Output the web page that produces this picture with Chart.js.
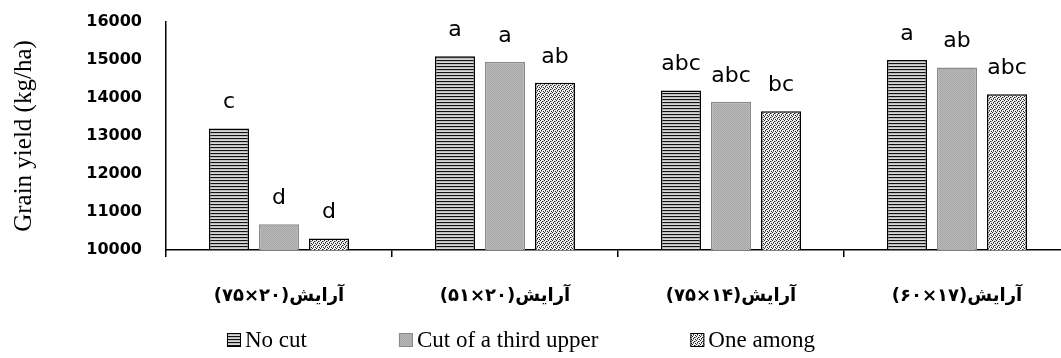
<!DOCTYPE html>
<html>
<head>
<meta charset="utf-8">
<script src="https://cdn.jsdelivr.net/npm/chart.js@4.4.1/dist/chart.umd.min.js"></script>
<style>
  html, body { margin: 0; padding: 0; background: #fff; overflow: hidden; width: 1061px; height: 358px; }
  #wrap { width: 1070px; height: 358px; }
</style>
</head>
<body>
<div id="wrap"><canvas id="c" width="1070" height="358"></canvas></div>
<script>
// ---- data ----
const categories = [
  "\u200Fآرایش(۲۰×۷۵)\u200F",
  "\u200Fآرایش(۲۰×۵۱)\u200F",
  "\u200Fآرایش(۱۴×۷۵)\u200F",
  "\u200Fآرایش(۱۷×۶۰)\u200F"
];
const seriesNames = ["No cut", "Cut of a third upper", "One among"];
const noCut     = [13200, 15100, 14200, 15000];
const cutThird  = [10680, 14950, 13900, 14800];
const oneAmong  = [10300, 14400, 13650, 14100];
const lettersNoCut = ["c", "a", "abc", "a"];
const lettersCut   = ["d", "a", "abc", "ab"];
const lettersOne   = ["d", "ab", "bc", "abc"];
const yTicks = [10000, 11000, 12000, 13000, 14000, 15000, 16000];

// ---- patterns ----
function makePattern(w, h, draw) {
  const pc = document.createElement('canvas');
  pc.width = w; pc.height = h;
  const g = pc.getContext('2d');
  draw(g);
  return document.getElementById('c').getContext('2d').createPattern(pc, 'repeat');
}
const patStripes = makePattern(1, 3, g => {
  g.fillStyle = '#111'; g.fillRect(0, 0, 1, 1);
  g.fillStyle = '#bdbdbd'; g.fillRect(0, 1, 1, 1);
  g.fillStyle = '#d8d8d8'; g.fillRect(0, 2, 1, 1);
});
const patGray = makePattern(2, 2, g => {
  g.fillStyle = '#b9b9b9'; g.fillRect(0, 0, 2, 2);
  g.fillStyle = '#a6a6a6'; g.fillRect(0, 0, 1, 1); g.fillRect(1, 1, 1, 1);
});
const patDots = makePattern(4, 4, g => {
  g.fillStyle = '#f2f2f2'; g.fillRect(0, 0, 4, 4);
  g.fillStyle = '#222';
  g.fillRect(0, 0, 1, 1); g.fillRect(2, 1, 1, 1); g.fillRect(1, 2, 1, 1); g.fillRect(3, 3, 1, 1);
  g.fillStyle = '#888';
  g.fillRect(3, 1, 1, 1); g.fillRect(1, 3, 1, 1);
});

const fills = [patStripes, patGray, patDots];
const borders = ['#000', '#8a8a8a', '#000'];
const letters = [lettersNoCut, lettersCut, lettersOne];

const letterPlugin = {
  id: 'letters',
  afterDatasetsDraw(chart) {
    const ctx = chart.ctx;
    ctx.save();
    ctx.font = '22px "DejaVu Sans"';
    ctx.fillStyle = '#000';
    ctx.textAlign = 'center';
    ctx.textBaseline = 'middle';
    chart.data.datasets.forEach((ds, di) => {
      chart.getDatasetMeta(di).data.forEach((bar, i) => {
        ctx.fillText(letters[di][i], bar.x, bar.y - 26);
      });
    });
    ctx.restore();
  }
};

const legendPlugin = {
  id: 'customLegend',
  afterDraw(chart) {
    const ctx = chart.ctx;
    ctx.save();
    ctx.font = '23px "Liberation Serif"';
    ctx.textBaseline = 'middle';
    const box = 14, gapText = 4, gapItem = 92, cy = 340, cx = 521;
    const widths = seriesNames.map(n => box + gapText + ctx.measureText(n).width);
    const total = widths.reduce((a, b) => a + b, 0) + gapItem * (widths.length - 1);
    let x = cx - total / 2;
    seriesNames.forEach((n, i) => {
      ctx.fillStyle = fills[i];
      ctx.fillRect(x, cy - box / 2, box, box);
      ctx.strokeStyle = borders[i];
      ctx.lineWidth = 1;
      ctx.strokeRect(x + 0.5, cy - box / 2 + 0.5, box - 1, box - 1);
      ctx.fillStyle = '#000';
      ctx.textAlign = 'left';
      ctx.fillText(n, x + box + gapText, cy + 1);
      x += widths[i] + gapItem;
    });
    ctx.restore();
  }
};

new Chart(document.getElementById('c'), {
  type: 'bar',
  data: {
    labels: categories,
    datasets: [
      { label: seriesNames[0], data: noCut,    backgroundColor: fills[0], borderColor: borders[0], borderWidth: 1.5 },
      { label: seriesNames[1], data: cutThird, backgroundColor: fills[1], borderColor: borders[1], borderWidth: 1.5 },
      { label: seriesNames[2], data: oneAmong, backgroundColor: fills[2], borderColor: borders[2], borderWidth: 1.5 }
    ]
  },
  options: {
    responsive: false,
    animation: false,
    devicePixelRatio: 1,
    layout: { padding: { top: 22, left: 0, right: 0, bottom: 0 } },
    datasets: { bar: { categoryPercentage: 0.664, barPercentage: 0.8, borderSkipped: false } },
    plugins: { legend: { display: false }, tooltip: { enabled: false } },
    scales: {
      x: {
        grid: { display: true, drawOnChartArea: false, drawTicks: true, tickLength: 7, color: '#000', lineWidth: 1.5, offset: true },
        border: { display: true, color: '#000', width: 1.5 },
        ticks: { color: '#000', font: { family: '"DejaVu Sans"', size: 18, weight: 'bold' }, padding: 29, maxRotation: 0, autoSkip: false },
        afterFit(scale) { scale.height = 108; }
      },
      y: {
        min: 10000, max: 16000,
        afterBuildTicks(scale) { scale.ticks = yTicks.map(v => ({ value: v })); },
        grid: { display: true, drawOnChartArea: false, drawTicks: true, tickLength: 20, color: 'rgba(0,0,0,0)' },
        border: { display: true, color: '#000', width: 1.5 },
        ticks: { color: '#000', font: { family: '"DejaVu Sans"', size: 16, weight: 'bold' }, padding: 4, callback: v => String(v) },
        title: { display: true, text: 'Grain yield (kg/ha)', color: '#000', font: { family: '"Liberation Serif"', size: 25 }, padding: { top: 9, bottom: 0 } },
        afterFit(scale) { scale.width = 166; }
      }
    }
  },
  plugins: [letterPlugin, legendPlugin]
});
</script>
</body>
</html>
